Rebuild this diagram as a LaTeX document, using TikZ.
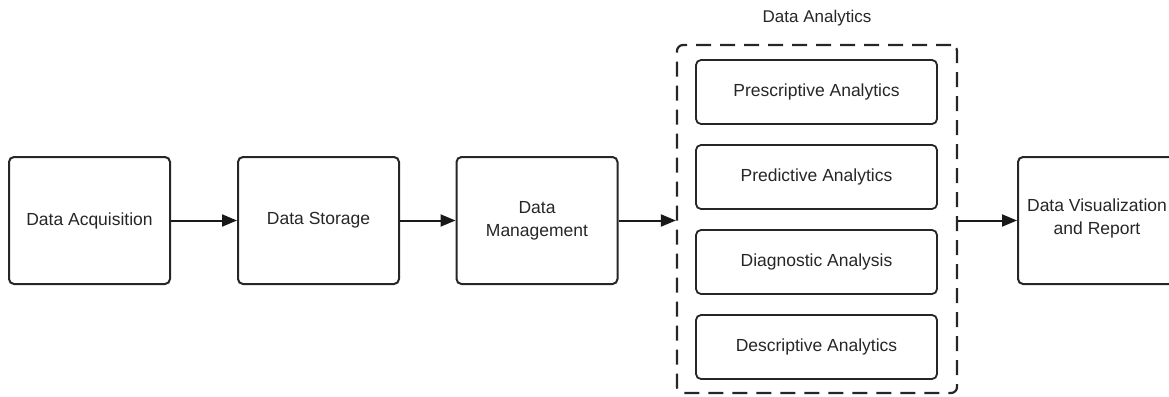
\documentclass[tikz,border=0pt]{standalone}
\usepackage{fontspec}
\setmainfont{Liberation Sans}
\usetikzlibrary{arrows.meta}
\begin{document}
\begin{tikzpicture}[x=1pt,y=-1pt,
  font=\fontsize{17.5}{23}\selectfont,
  mainbox/.style={draw=black!85, line width=2pt, rounded corners=5pt, minimum width=161pt, minimum height=127pt, align=center, inner sep=0pt, text=black!85},
  subbox/.style={draw=black!85, line width=1.8pt, rounded corners=5pt, minimum width=241pt, minimum height=64pt, align=center, inner sep=0pt, text=black!85},
  groupbox/.style={draw=black!85, line width=2.2pt, rounded corners=6pt, dash pattern=on 15pt off 9pt},
  flow/.style={draw=black!90, line width=2pt, -{Triangle[length=15pt,width=12pt]}}]
\useasboundingbox (0,0) rectangle (1169,396);
\node[mainbox] (acq) at (89.5,220.5) {Data Acquisition};
\node[mainbox] (sto) at (318.5,220.5) {Data Storage};
\node[mainbox] (man) at (537,220.5) {Data\\Management};
\node[mainbox, minimum width=158pt, anchor=west] (vis) at (1017,220.5) {};
\node[text=black!85, align=center] (vistxt) at (1097,218.5) {Data Visualization\\and Report};
\node[subbox] (pre) at (816.5,92) {Prescriptive Analytics};
\node[subbox] (prd) at (816.5,177) {Predictive Analytics};
\node[subbox] (dia) at (816.5,262) {Diagnostic Analysis};
\node[subbox] (des) at (816.5,347) {Descriptive Analytics};
\node[groupbox, minimum width=280pt, minimum height=348pt, inner sep=0pt] (grp) at (817,219) {};
\node[text=black!85, font=\fontsize{17}{20}\selectfont] (grplbl) at (817,18) {Data Analytics};
\draw[flow] (acq) -- (sto);
\draw[flow] (sto) -- (man);
\draw[flow] (man.east) -- (man.east -| grp.west);
\draw[flow] (grp.east |- vis.west) -- (vis.west);
\end{tikzpicture}
\end{document}
